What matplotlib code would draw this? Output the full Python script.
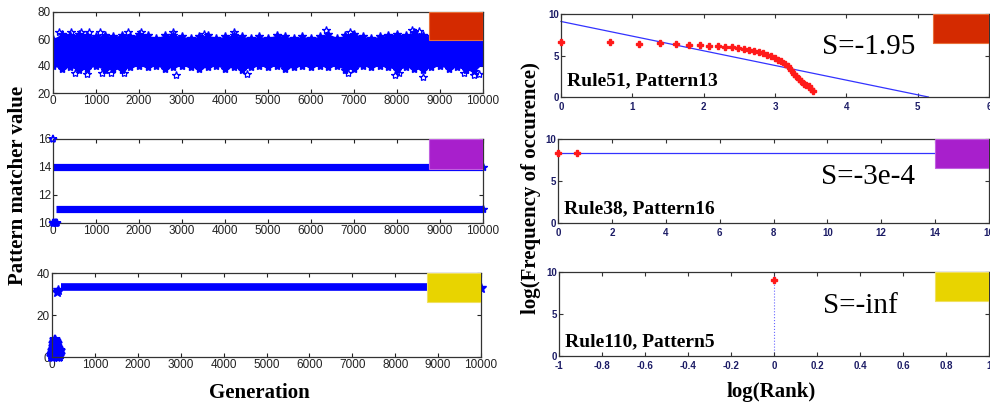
import numpy as np
import matplotlib
matplotlib.use("Agg")
import matplotlib.pyplot as plt
from matplotlib.patches import Rectangle

# ---------------- data ----------------
# Left panel 1 (Rule51): envelope of the dense noisy band, read every 200 generations
band_gen = [0, 200, 400, 600, 800, 1000, 1200, 1400, 1600, 1800, 2000, 2200, 2400, 2600, 2800,
            3000, 3200, 3400, 3600, 3800, 4000, 4200, 4400, 4600, 4800, 5000, 5200, 5400, 5600,
            5800, 6000, 6200, 6400, 6600, 6800, 7000, 7200, 7400, 7600, 7800, 8000, 8200, 8400,
            8600, 8800, 9000, 9200, 9400, 9600, 9800, 10000]
band_top = [60, 64, 63, 64, 63, 62, 63, 62, 63, 62, 64, 63, 61, 63, 63,
            62, 61, 62, 63, 61, 62, 63, 62, 61, 62, 61, 63, 62, 61,
            62, 61, 62, 64, 61, 63, 64, 62, 61, 62, 63, 64, 63, 65,
            63, 62, 61, 62, 61, 62, 63, 62]
band_bot = [40, 38, 39, 37, 38, 40, 37, 38, 37, 39, 40, 39, 40, 38, 39,
            40, 39, 38, 39, 40, 38, 39, 37, 39, 40, 39, 40, 38, 39,
            40, 39, 40, 39, 40, 37, 38, 40, 39, 40, 39, 37, 39, 38,
            37, 39, 40, 38, 39, 37, 36, 42]
out_gen = [150, 420, 650, 830, 1100, 1750, 2050, 2800, 3500, 4200, 6350, 6900, 8350, 8500,
           500, 800, 1150, 1350, 1650, 2850, 4500, 6850, 7950, 8050, 8600, 9550, 9800, 9900]
out_val = [65, 65, 65, 65, 65, 65, 65, 65, 64, 65, 67, 65, 67, 66,
           35, 34, 35, 35, 35, 33, 34, 35, 33, 35, 32, 35, 33, 34]

# Left panel 2 (Rule38): constant levels
lvl2_values = [14, 11]
lvl2_start = [0, 60]
lvl2_end = [10000, 10000]
p2_early_gen = [0, 20, 40, 60, 80, 100, 0]
p2_early_val = [10, 10, 10, 10, 10, 10, 16]

# Left panel 3 (Rule110)
p3_early_gen = [5, 15, 25, 35, 45, 55, 65, 75, 85, 95, 105, 115, 125, 135, 145, 160, 175, 190,
                10, 30, 50, 70, 90, 110, 130, 150, 170, 40, 80, 120, 60, 100]
p3_early_val = [1, 3, 2, 4, 5, 3, 7, 8, 6, 4, 5, 3, 2, 1, 4, 2, 1, 3,
                0, 1, 0, 2, 1, 0, 1, 3, 0, 6, 4, 6, 2, 7]
p3_level = 33.5
p3_level_start = 200
p3_level_end = 10000
p3_jump_gen = [120, 150, 10000]
p3_jump_val = [31, 32, 33]

# Right panel 1: log(Rank) vs log(Frequency)
r1_x = [0.0, 0.69, 1.10, 1.39, 1.61, 1.79, 1.95, 2.08, 2.20, 2.30, 2.40, 2.48, 2.56, 2.64,
        2.71, 2.77, 2.83, 2.89, 2.94, 3.00, 3.04, 3.09, 3.14, 3.18, 3.22, 3.26, 3.30, 3.33,
        3.37, 3.40, 3.43, 3.47, 3.50, 3.53]
r1_y = [6.6, 6.6, 6.4, 6.5, 6.4, 6.3, 6.3, 6.2, 6.1, 6.0, 6.0, 5.9, 5.8, 5.7,
        5.6, 5.4, 5.3, 5.1, 5.0, 4.7, 4.5, 4.3, 4.0, 3.7, 3.2, 2.8, 2.5, 2.2,
        1.9, 1.6, 1.5, 1.3, 1.0, 0.7]
r1_fit_x = [0.0, 5.15]
r1_fit_y = [9.1, 0.0]

r2_x = [0.0, 0.69]
r2_y = [8.3, 8.3]
r2_fit_x = [0.0, 16.0]
r2_fit_y = [8.3, 8.3]

r3_x = [0.0]
r3_y = [9.0]

# ---------------- figure ----------------
W, H = 990, 408
fig = plt.figure(figsize=(W / 100, H / 100), dpi=100)

def ax_at(l, t, r, b):
    return fig.add_axes([l / W, 1 - b / H, (r - l) / W, (b - t) / H])

BLUE = "#0000ff"
SERIF = "Liberation Serif"

def style_left(ax):
    ax.tick_params(direction="in", top=True, right=True, length=3, width=0.8,
                   labelsize=8.5, pad=1.5, colors="#222222")
    for lab in ax.get_xticklabels() + ax.get_yticklabels():
        lab.set_family("Liberation Sans")
    for s in ax.spines.values():
        s.set_color("#333333")
        s.set_linewidth(0.9)

def style_right(ax):
    ax.tick_params(direction="in", top=True, right=True, length=3, width=0.8,
                   labelsize=7, pad=1.5, colors="#333333", labelcolor="#1c1c66")
    ax.tick_params(axis="x", pad=3.5)
    for lab in ax.get_xticklabels() + ax.get_yticklabels():
        lab.set_family("Liberation Sans")
        lab.set_fontweight("bold")
    for s in ax.spines.values():
        s.set_color("#333333")
        s.set_linewidth(0.9)

gen_ticks = list(range(0, 10001, 1000))

# ---- left 1 ----
a1 = ax_at(53, 12, 483, 93)
a1.fill_between(band_gen, band_bot, band_top, color=BLUE, lw=0, zorder=2)
a1.plot(band_gen, band_top, ls="none", marker="*", ms=6, color=BLUE, zorder=2)
a1.plot(band_gen, band_bot, ls="none", marker="*", ms=6, color=BLUE, zorder=2)
a1.plot(out_gen, out_val, ls="none", marker="*", ms=6, mfc="none", mec=BLUE, mew=0.9, zorder=2)
a1.set_xlim(0, 10000)
a1.set_ylim(20, 80)
a1.set_xticks(gen_ticks)
a1.set_yticks([20, 40, 60, 80])
a1.add_patch(Rectangle((8750, 59), 1250, 21, facecolor="#d42a00", edgecolor="#e8703a", lw=0.8, zorder=5))
style_left(a1)

# ---- left 2 ----
a2 = ax_at(53, 139, 483, 223)
for v, s, e in zip(lvl2_values, lvl2_start, lvl2_end):
    a2.plot([s, e], [v, v], color=BLUE, lw=5.2, solid_capstyle="butt", zorder=2)
    a2.plot([e], [v], ls="none", marker="*", ms=6, color=BLUE, zorder=2, clip_on=False)
a2.plot(p2_early_gen, p2_early_val, ls="none", marker="*", ms=6, mfc="none", mec=BLUE, mew=1.2,
        clip_on=False, zorder=3)
a2.set_xlim(0, 10000)
a2.set_ylim(10, 16)
a2.set_xticks(gen_ticks)
a2.set_yticks([10, 12, 14, 16])
a2.add_patch(Rectangle((8750, 13.85), 1250, 2.15, facecolor="#a81fcc", edgecolor="#c060e0", lw=0.8, zorder=5))
style_left(a2)

# ---- left 3 ----
a3 = ax_at(52, 273, 481, 357)
a3.plot([p3_level_start, p3_level_end], [p3_level, p3_level], color=BLUE, lw=5.5,
        solid_capstyle="butt", zorder=2)
a3.plot(p3_jump_gen, p3_jump_val, ls="none", marker="*", ms=7, color=BLUE, zorder=2, clip_on=False)
a3.plot(p3_early_gen, p3_early_val, ls="none", marker="*", ms=7, mfc="none", mec=BLUE, mew=1.5,
        zorder=2, clip_on=False)
a3.set_xlim(0, 10000)
a3.set_ylim(0, 40)
a3.set_xticks(gen_ticks)
a3.set_yticks([0, 20, 40])
a3.add_patch(Rectangle((8750, 26), 1250, 14, facecolor="#e8d400", edgecolor="#f0e060", lw=0.8, zorder=5))
style_left(a3)

fig.text(259 / W, 1 - 393 / H, "Generation", family=SERIF, weight="bold", fontsize=15,
         ha="center", va="center")
fig.text(18 / W, 1 - 185 / H, "Pattern matcher value", family=SERIF, weight="bold", fontsize=15,
         ha="center", va="center", rotation=90)

# ---- right 1 ----
RED = "#ff1a1a"
b1 = ax_at(561, 14, 989, 97)
b1.plot(r1_fit_x, r1_fit_y, color="#3333ff", lw=0.9, zorder=2, clip_on=False)
b1.plot(r1_x, r1_y, ls="none", marker="P", ms=4.5, color=RED, zorder=3, clip_on=False)
b1.set_xlim(0, 6)
b1.set_ylim(0, 10)
b1.set_xticks(range(0, 7))
b1.set_yticks([0, 5, 10])
b1.add_patch(Rectangle((5.22, 6.5), 0.78, 3.5, facecolor="#d42a00", edgecolor="#e8703a", lw=0.8, zorder=5))
style_right(b1)
b1.text(0.61, 0.6, "S=-1.95", transform=b1.transAxes, family=SERIF, fontsize=21,
        ha="left", va="center")
b1.text(0.015, 0.2, "Rule51, Pattern13", transform=b1.transAxes, family=SERIF, weight="bold",
        fontsize=14, ha="left", va="center")

# ---- right 2 ----
b2 = ax_at(558, 139, 989, 223)
b2.plot(r2_fit_x, r2_fit_y, color="#3333ff", lw=0.9, zorder=2)
b2.plot(r2_x, r2_y, ls="none", marker="P", ms=4.5, color=RED, zorder=3, clip_on=False)
b2.set_xlim(0, 16)
b2.set_ylim(0, 10)
b2.set_xticks(range(0, 17, 2))
b2.set_yticks([0, 5, 10])
b2.add_patch(Rectangle((14, 6.5), 2, 3.5, facecolor="#a81fcc", edgecolor="#c060e0", lw=0.8, zorder=5))
style_right(b2)
b2.text(0.61, 0.55, "S=-3e-4", transform=b2.transAxes, family=SERIF, fontsize=21,
        ha="left", va="center")
b2.text(0.015, 0.17, "Rule38, Pattern16", transform=b2.transAxes, family=SERIF, weight="bold",
        fontsize=14, ha="left", va="center")

# ---- right 3 ----
b3 = ax_at(559, 272, 989, 356)
b3.axvline(0, color="#6666ff", lw=0.8, ls=":", zorder=1)
b3.plot(r3_x, r3_y, ls="none", marker="P", ms=4.5, color=RED, zorder=3)
b3.set_xlim(-1, 1)
b3.set_ylim(0, 10)
b3.set_xticks([-1, -0.8, -0.6, -0.4, -0.2, 0, 0.2, 0.4, 0.6, 0.8, 1])
b3.set_xticklabels(["-1", "-0.8", "-0.6", "-0.4", "-0.2", "0", "0.2", "0.4", "0.6", "0.8", "1"])
b3.set_yticks([0, 5, 10])
b3.add_patch(Rectangle((0.75, 6.5), 0.25, 3.5, facecolor="#e8d400", edgecolor="#f0e060", lw=0.8, zorder=5))
style_right(b3)
b3.text(0.615, 0.59, "S=-inf", transform=b3.transAxes, family=SERIF, fontsize=21,
        ha="left", va="center")
b3.text(0.015, 0.17, "Rule110, Pattern5", transform=b3.transAxes, family=SERIF, weight="bold",
        fontsize=14, ha="left", va="center")

fig.text(771 / W, 1 - 392 / H, "log(Rank)", family=SERIF, weight="bold", fontsize=15,
         ha="center", va="center")
fig.text(531 / W, 1 - 188 / H, "log(Frequency of occurence)", family=SERIF, weight="bold",
         fontsize=15, ha="center", va="center", rotation=90)

fig.savefig("out.png", dpi=100)
